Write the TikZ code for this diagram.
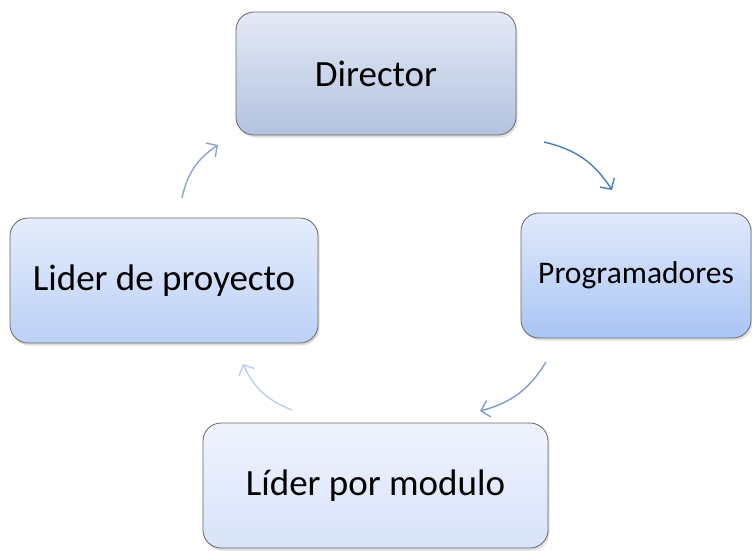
\documentclass[tikz,border=0pt]{standalone}
\usepackage{fontspec}
\setmainfont{Carlito}
\usepackage{tikz}
\usetikzlibrary{arrows.meta,shadows}

\definecolor{dirtop}{HTML}{E4E9F5}
\definecolor{dirbot}{HTML}{B3C2E0}
\definecolor{progtop}{HTML}{E1E9FB}
\definecolor{progbot}{HTML}{A9C5F4}
\definecolor{proytop}{HTML}{E5EDFC}
\definecolor{proybot}{HTML}{BCD0F6}
\definecolor{modtop}{HTML}{EFF3FD}
\definecolor{modbot}{HTML}{D8E3FA}
\definecolor{flechauno}{HTML}{4A7EBB}
\definecolor{flechados}{HTML}{7C9DD0}
\definecolor{flechatres}{HTML}{BFCDEA}
\definecolor{flechacuatro}{HTML}{8BA5D3}

\begin{document}
\begin{tikzpicture}[x=1pt, y=1pt,
	caja/.style={draw=gray!80!black, line width=0.8pt, rounded corners=18pt, inner sep=0pt,
		drop shadow={opacity=0.25, shadow xshift=1.5pt, shadow yshift=-2.5pt}},
	flecha/.style={line width=1.4pt, -{Straight Barb[length=8pt, width=17pt]}}]
			
			\useasboundingbox (0, 0) rectangle (752, -550);
			
			% cajas
			\node[caja, top color=dirtop, bottom color=dirbot, minimum width=280, minimum height=123] (director) at (376, -73.5) {\fontsize{37}{42}\selectfont Director};
			\node[caja, top color=progtop, bottom color=progbot, minimum width=230, minimum height=125] (programadores) at (636, -275.5) {\fontsize{31.5}{36}\selectfont Programadores};
			\node[caja, top color=proytop, bottom color=proybot, minimum width=308, minimum height=125] (liderproy) at (164, -280.5) {\fontsize{37}{42}\selectfont Lider de proyecto};
			\node[caja, top color=modtop, bottom color=modbot, minimum width=345, minimum height=125] (lidermod) at (375.5, -485.5) {\fontsize{37}{42}\selectfont Líder por modulo};
			
			% flechas
			\coordinate (a1s) at (544, -142);
			\coordinate (a1e) at (612, -190);
			\coordinate (a2s) at (546, -362);
			\coordinate (a2e) at (480, -411);
			\coordinate (a3s) at (292, -410);
			\coordinate (a3e) at (243, -364);
			\coordinate (a4s) at (182, -198);
			\coordinate (a4e) at (218, -145);
			\draw[flecha, flechauno] (a1s) to[bend left=22] (a1e);
			\draw[flecha, flechados] (a2s) to[bend left=22] (a2e);
			\draw[flecha, flechatres] (a3s) to[bend left=22] (a3e);
			\draw[flecha, flechacuatro] (a4s) to[bend left=22] (a4e);
			
		\end{tikzpicture}
\end{document}
